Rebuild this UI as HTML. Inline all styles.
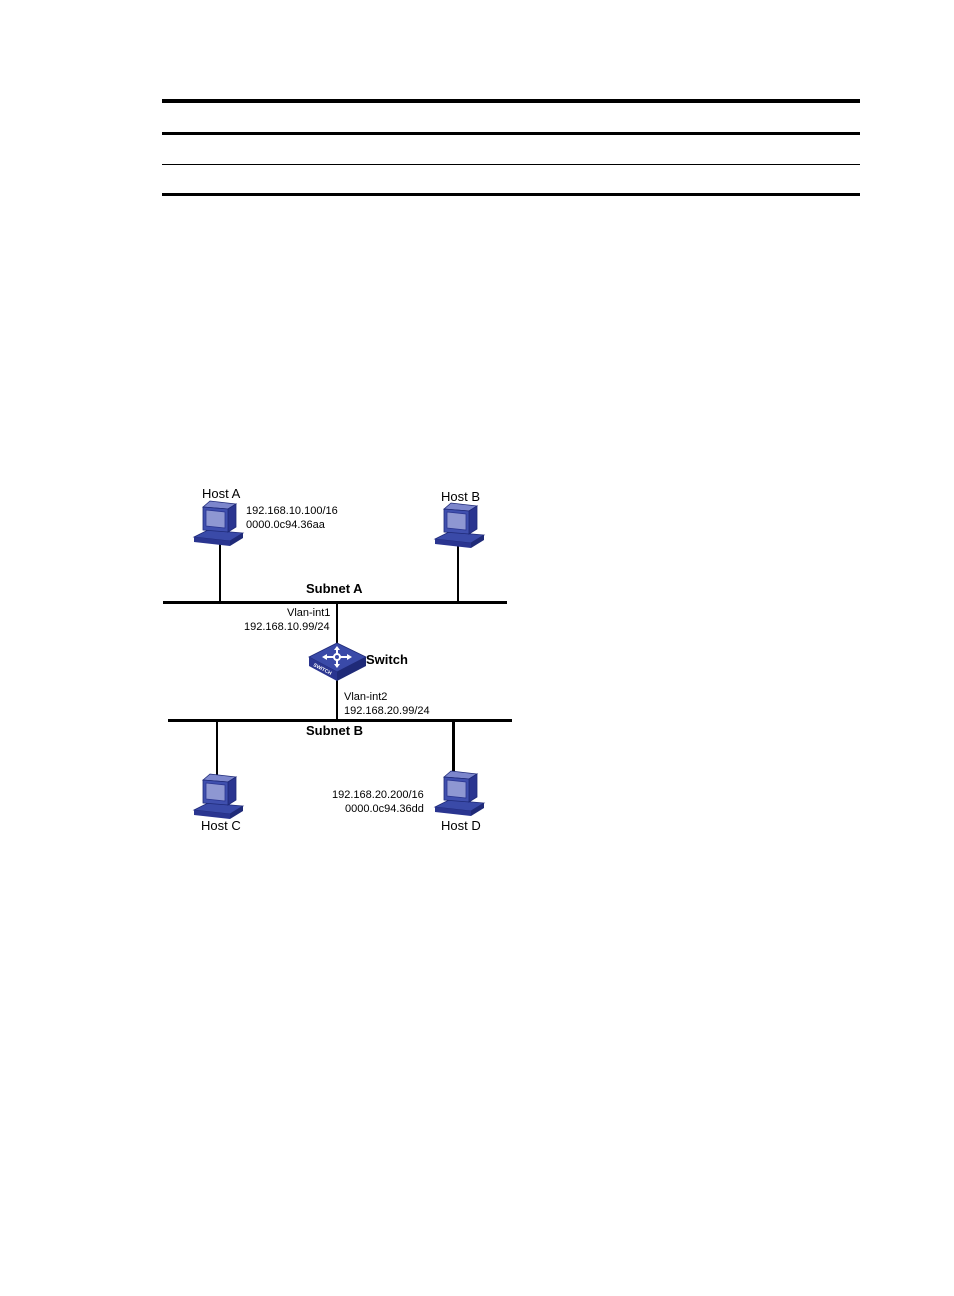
<!DOCTYPE html>
<html><head><meta charset="utf-8"><style>
html,body{margin:0;padding:0;background:#fff;}
svg{display:block;}
text{font-family:"Liberation Sans",Arial,sans-serif;font-size:11px;fill:#000;}
.b{font-weight:bold;font-size:13px;}
.h{font-size:13px;}
</style></head><body>
<svg width="954" height="1296" viewBox="0 0 954 1296" xmlns="http://www.w3.org/2000/svg">
<defs>
<g id="pc">
  <polygon points="0,37 14,30 49,33 36,41" fill="#3a4aa8" stroke="#1f2a78" stroke-width="0.8"/>
  <polygon points="0,37 36,41 36,46 0,42" fill="#2a3590"/>
  <polygon points="36,41 49,33 49,38 36,46" fill="#1f2a78"/>
  <polygon points="9,7 16,1 42,4 34,9" fill="#7c86cc" stroke="#1f2a78" stroke-width="0.8"/>
  <polygon points="34,9 42,4 42,27 34,32" fill="#2a3590" stroke="#1f2a78" stroke-width="0.8"/>
  <polygon points="9,7 34,9 34,32 9,30" fill="#3f4fae" stroke="#1f2a78" stroke-width="0.8"/>
  <polygon points="12,10 31,12 31,28 12,26" fill="#8e97d2" stroke="#2a3590" stroke-width="0.8"/>
</g>
</defs>
<rect x="162" y="99" width="698" height="4" fill="#000"/>
<rect x="162" y="132" width="698" height="3" fill="#000"/>
<rect x="162" y="164" width="698" height="1" fill="#000"/>
<rect x="162" y="193" width="698" height="3" fill="#000"/>

<rect x="163" y="601" width="344" height="3" fill="#000"/>
<rect x="168" y="719" width="344" height="3" fill="#000"/>
<rect x="219" y="540" width="2" height="62" fill="#000"/>
<rect x="457" y="543" width="2" height="59" fill="#000"/>
<rect x="336" y="603" width="2" height="42" fill="#000"/>
<rect x="336" y="678" width="2" height="42" fill="#000"/>
<rect x="216" y="721" width="2" height="56" fill="#000"/>
<rect x="452" y="721" width="3" height="52" fill="#000"/>

<use href="#pc" x="194" y="500"/>
<use href="#pc" x="435" y="502"/>
<use href="#pc" x="194" y="773"/>
<use href="#pc" x="435" y="770"/>

<polygon points="309,657 337,643 366,657 337,672" fill="#3a4aa8" stroke="#1f2a78" stroke-width="0.8"/>
<polygon points="309,657 337,672 337,681 309,666" fill="#2a3590"/>
<polygon points="337,672 366,657 366,666 337,681" fill="#1f2a78"/>
<g stroke="#fff" stroke-width="2" fill="#fff">
  <line x1="325" y1="657" x2="349" y2="657"/>
  <line x1="337" y1="648" x2="337" y2="666"/>
  <polygon points="322,657 327,654 327,660" stroke="none"/>
  <polygon points="352,657 347,654 347,660" stroke="none"/>
  <polygon points="337,646 334,650 340,650" stroke="none"/>
  <polygon points="337,668 334,664 340,664" stroke="none"/>
  <circle cx="337" cy="657" r="3" fill="#3a4aa8"/>
</g>
<text x="313" y="666" transform="rotate(27 313 666)" style="font-size:5px;fill:#fff;font-weight:bold">SWITCH</text>

<text x="202" y="498" class="h">Host A</text>
<text x="246" y="514">192.168.10.100/16</text>
<text x="246" y="528">0000.0c94.36aa</text>
<text x="441" y="501" class="h">Host B</text>
<text x="306" y="593" class="b">Subnet A</text>
<text x="287" y="616">Vlan-int1</text>
<text x="244" y="630">192.168.10.99/24</text>
<text x="366" y="664" class="b">Switch</text>
<text x="344" y="700">Vlan-int2</text>
<text x="344" y="714">192.168.20.99/24</text>
<text x="306" y="735" class="b">Subnet B</text>
<text x="332" y="798">192.168.20.200/16</text>
<text x="345" y="812">0000.0c94.36dd</text>
<text x="201" y="830" class="h">Host C</text>
<text x="441" y="830" class="h">Host D</text>
</svg>
</body></html>
